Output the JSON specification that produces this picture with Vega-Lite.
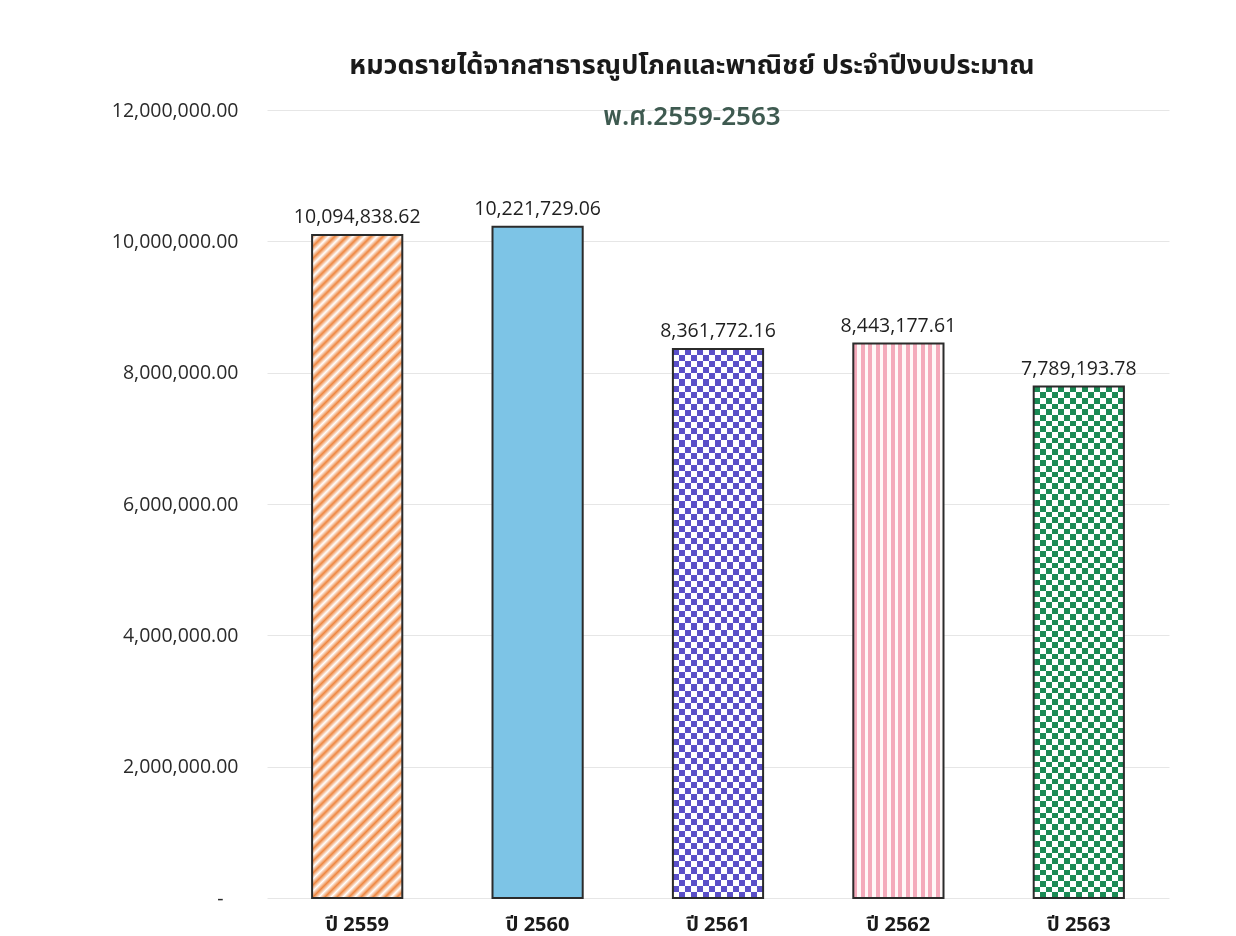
{
  "$schema": "https://vega.github.io/schema/vega-lite/v6.json",
  "width": 902,
  "height": 788,
  "autosize": {"type": "none"},
  "padding": {"left": 267, "top": 110, "right": 67, "bottom": 38},
  "background": "#ffffff",
  "config": {"view": {"stroke": null}},
  "title": {
    "text": "หมวดรายได้จากสาธารณูปโภคและพาณิชย์ ประจำปีงบประมาณ",
    "subtitle": "พ.ศ.2559-2563",
    "anchor": "middle",
    "dx": -26,
    "offset": -31,
    "subtitlePadding": 24,
    "font": "Noto Sans Thai, Tahoma, Noto Sans, DejaVu Sans, sans-serif",
    "fontSize": 27,
    "fontWeight": "bold",
    "color": "#1a1a1a",
    "subtitleFont": "Noto Sans Thai, Tahoma, Noto Sans, DejaVu Sans, sans-serif",
    "subtitleFontSize": 26,
    "subtitleFontWeight": 600,
    "subtitleColor": "#3e5a50"
  },
  "data": {
    "values": [
      {"year": "ปี 2559", "value": 10094838.62},
      {"year": "ปี 2560", "value": 10221729.06},
      {"year": "ปี 2561", "value": 8361772.16},
      {"year": "ปี 2562", "value": 8443177.61},
      {"year": "ปี 2563", "value": 7789193.78}
    ]
  },
  "encoding": {
    "x": {
      "field": "year", "type": "nominal", "title": null,
      "scale": {"domain": ["ปี 2559", "ปี 2560", "ปี 2561", "ปี 2562", "ปี 2563"], "paddingInner": 0.5, "paddingOuter": 0.25},
      "axis": {
        "labelAngle": 0, "domain": false, "ticks": false, "grid": false,
        "labelPadding": 16, "labelFontSize": 20, "labelFontWeight": "bold",
        "labelColor": "#1a1a1a",
        "labelFont": "Open Sans, Noto Sans Thai, Tahoma, sans-serif"
      }
    },
    "y": {
      "field": "value", "type": "quantitative", "title": null,
      "scale": {"domain": [0, 12000000], "nice": false},
      "axis": {
        "values": [0, 2000000, 4000000, 6000000, 8000000, 10000000, 12000000],
        "labelExpr": "datum.value == 0 ? '-\u2800' : format(datum.value, ',.2f')",
        "domain": false, "ticks": false, "grid": true,
        "gridColor": "#e6e6e6", "gridWidth": 1,
        "labelPadding": 29, "labelFontSize": 19.5,
        "labelColor": "#2a2a2a", "labelFont": "Open Sans"
      }
    }
  },
  "layer": [
    {
      "transform": [{"filter": "datum.year == 'ปี 2559'"}],
      "mark": {
        "type": "bar",
        "fill": {
          "gradient": "linear", "x1": 0, "y1": 0, "x2": 0.1518, "y2": 1.1155,
          "stops": [
            {"offset": 0, "color": "#ee8640"}, {"offset": 0.008, "color": "#ffffff"}, {"offset": 0.016, "color": "#ee8640"}, {"offset": 0.024, "color": "#ffffff"}, {"offset": 0.032, "color": "#ee8640"}, {"offset": 0.04, "color": "#ffffff"}, {"offset": 0.048, "color": "#ee8640"}, {"offset": 0.056, "color": "#ffffff"}, {"offset": 0.064, "color": "#ee8640"}, {"offset": 0.072, "color": "#ffffff"},
            {"offset": 0.08, "color": "#ee8640"}, {"offset": 0.088, "color": "#ffffff"}, {"offset": 0.096, "color": "#ee8640"}, {"offset": 0.104, "color": "#ffffff"}, {"offset": 0.112, "color": "#ee8640"}, {"offset": 0.12, "color": "#ffffff"}, {"offset": 0.128, "color": "#ee8640"}, {"offset": 0.136, "color": "#ffffff"}, {"offset": 0.144, "color": "#ee8640"}, {"offset": 0.152, "color": "#ffffff"},
            {"offset": 0.16, "color": "#ee8640"}, {"offset": 0.168, "color": "#ffffff"}, {"offset": 0.176, "color": "#ee8640"}, {"offset": 0.184, "color": "#ffffff"}, {"offset": 0.192, "color": "#ee8640"}, {"offset": 0.2, "color": "#ffffff"}, {"offset": 0.208, "color": "#ee8640"}, {"offset": 0.216, "color": "#ffffff"}, {"offset": 0.224, "color": "#ee8640"}, {"offset": 0.232, "color": "#ffffff"},
            {"offset": 0.24, "color": "#ee8640"}, {"offset": 0.248, "color": "#ffffff"}, {"offset": 0.256, "color": "#ee8640"}, {"offset": 0.264, "color": "#ffffff"}, {"offset": 0.272, "color": "#ee8640"}, {"offset": 0.28, "color": "#ffffff"}, {"offset": 0.288, "color": "#ee8640"}, {"offset": 0.296, "color": "#ffffff"}, {"offset": 0.304, "color": "#ee8640"}, {"offset": 0.312, "color": "#ffffff"},
            {"offset": 0.32, "color": "#ee8640"}, {"offset": 0.328, "color": "#ffffff"}, {"offset": 0.336, "color": "#ee8640"}, {"offset": 0.344, "color": "#ffffff"}, {"offset": 0.352, "color": "#ee8640"}, {"offset": 0.36, "color": "#ffffff"}, {"offset": 0.368, "color": "#ee8640"}, {"offset": 0.376, "color": "#ffffff"}, {"offset": 0.384, "color": "#ee8640"}, {"offset": 0.392, "color": "#ffffff"},
            {"offset": 0.4, "color": "#ee8640"}, {"offset": 0.408, "color": "#ffffff"}, {"offset": 0.416, "color": "#ee8640"}, {"offset": 0.424, "color": "#ffffff"}, {"offset": 0.432, "color": "#ee8640"}, {"offset": 0.44, "color": "#ffffff"}, {"offset": 0.448, "color": "#ee8640"}, {"offset": 0.456, "color": "#ffffff"}, {"offset": 0.464, "color": "#ee8640"}, {"offset": 0.472, "color": "#ffffff"},
            {"offset": 0.48, "color": "#ee8640"}, {"offset": 0.488, "color": "#ffffff"}, {"offset": 0.496, "color": "#ee8640"}, {"offset": 0.504, "color": "#ffffff"}, {"offset": 0.512, "color": "#ee8640"}, {"offset": 0.52, "color": "#ffffff"}, {"offset": 0.528, "color": "#ee8640"}, {"offset": 0.536, "color": "#ffffff"}, {"offset": 0.544, "color": "#ee8640"}, {"offset": 0.552, "color": "#ffffff"},
            {"offset": 0.56, "color": "#ee8640"}, {"offset": 0.568, "color": "#ffffff"}, {"offset": 0.576, "color": "#ee8640"}, {"offset": 0.584, "color": "#ffffff"}, {"offset": 0.592, "color": "#ee8640"}, {"offset": 0.6, "color": "#ffffff"}, {"offset": 0.608, "color": "#ee8640"}, {"offset": 0.616, "color": "#ffffff"}, {"offset": 0.624, "color": "#ee8640"}, {"offset": 0.632, "color": "#ffffff"},
            {"offset": 0.64, "color": "#ee8640"}, {"offset": 0.648, "color": "#ffffff"}, {"offset": 0.656, "color": "#ee8640"}, {"offset": 0.664, "color": "#ffffff"}, {"offset": 0.672, "color": "#ee8640"}, {"offset": 0.68, "color": "#ffffff"}, {"offset": 0.688, "color": "#ee8640"}, {"offset": 0.696, "color": "#ffffff"}, {"offset": 0.704, "color": "#ee8640"}, {"offset": 0.712, "color": "#ffffff"},
            {"offset": 0.72, "color": "#ee8640"}, {"offset": 0.728, "color": "#ffffff"}, {"offset": 0.736, "color": "#ee8640"}, {"offset": 0.744, "color": "#ffffff"}, {"offset": 0.752, "color": "#ee8640"}, {"offset": 0.76, "color": "#ffffff"}, {"offset": 0.768, "color": "#ee8640"}, {"offset": 0.776, "color": "#ffffff"}, {"offset": 0.784, "color": "#ee8640"}, {"offset": 0.792, "color": "#ffffff"},
            {"offset": 0.8, "color": "#ee8640"}, {"offset": 0.808, "color": "#ffffff"}, {"offset": 0.816, "color": "#ee8640"}, {"offset": 0.824, "color": "#ffffff"}, {"offset": 0.832, "color": "#ee8640"}, {"offset": 0.84, "color": "#ffffff"}, {"offset": 0.848, "color": "#ee8640"}, {"offset": 0.856, "color": "#ffffff"}, {"offset": 0.864, "color": "#ee8640"}, {"offset": 0.872, "color": "#ffffff"},
            {"offset": 0.88, "color": "#ee8640"}, {"offset": 0.888, "color": "#ffffff"}, {"offset": 0.896, "color": "#ee8640"}, {"offset": 0.904, "color": "#ffffff"}, {"offset": 0.912, "color": "#ee8640"}, {"offset": 0.92, "color": "#ffffff"}, {"offset": 0.928, "color": "#ee8640"}, {"offset": 0.936, "color": "#ffffff"}, {"offset": 0.944, "color": "#ee8640"}, {"offset": 0.952, "color": "#ffffff"},
            {"offset": 0.96, "color": "#ee8640"}, {"offset": 0.968, "color": "#ffffff"}, {"offset": 0.976, "color": "#ee8640"}, {"offset": 0.984, "color": "#ffffff"}, {"offset": 0.992, "color": "#ee8640"}, {"offset": 1, "color": "#ffffff"}
          ]
        }
      }
    },
    {
      "transform": [{"filter": "datum.year == 'ปี 2560'"}],
      "mark": {"type": "bar", "fill": "#7dc4e6"}
    },
    {
      "transform": [{"filter": "datum.year == 'ปี 2562'"}],
      "mark": {
        "type": "bar",
        "fill": {
          "gradient": "linear", "x1": 0, "y1": 0, "x2": 1, "y2": 0,
          "stops": [
            {"offset": 0, "color": "#f4aabb"}, {"offset": 0.0417, "color": "#f4aabb"}, {"offset": 0.0417, "color": "#fff8f8"}, {"offset": 0.0833, "color": "#fff8f8"},
            {"offset": 0.0833, "color": "#f4aabb"}, {"offset": 0.125, "color": "#f4aabb"}, {"offset": 0.125, "color": "#fff8f8"}, {"offset": 0.1667, "color": "#fff8f8"},
            {"offset": 0.1667, "color": "#f4aabb"}, {"offset": 0.2083, "color": "#f4aabb"}, {"offset": 0.2083, "color": "#fff8f8"}, {"offset": 0.25, "color": "#fff8f8"},
            {"offset": 0.25, "color": "#f4aabb"}, {"offset": 0.2917, "color": "#f4aabb"}, {"offset": 0.2917, "color": "#fff8f8"}, {"offset": 0.3333, "color": "#fff8f8"},
            {"offset": 0.3333, "color": "#f4aabb"}, {"offset": 0.375, "color": "#f4aabb"}, {"offset": 0.375, "color": "#fff8f8"}, {"offset": 0.4167, "color": "#fff8f8"},
            {"offset": 0.4167, "color": "#f4aabb"}, {"offset": 0.4583, "color": "#f4aabb"}, {"offset": 0.4583, "color": "#fff8f8"}, {"offset": 0.5, "color": "#fff8f8"},
            {"offset": 0.5, "color": "#f4aabb"}, {"offset": 0.5417, "color": "#f4aabb"}, {"offset": 0.5417, "color": "#fff8f8"}, {"offset": 0.5833, "color": "#fff8f8"},
            {"offset": 0.5833, "color": "#f4aabb"}, {"offset": 0.625, "color": "#f4aabb"}, {"offset": 0.625, "color": "#fff8f8"}, {"offset": 0.6667, "color": "#fff8f8"},
            {"offset": 0.6667, "color": "#f4aabb"}, {"offset": 0.7083, "color": "#f4aabb"}, {"offset": 0.7083, "color": "#fff8f8"}, {"offset": 0.75, "color": "#fff8f8"},
            {"offset": 0.75, "color": "#f4aabb"}, {"offset": 0.7917, "color": "#f4aabb"}, {"offset": 0.7917, "color": "#fff8f8"}, {"offset": 0.8333, "color": "#fff8f8"},
            {"offset": 0.8333, "color": "#f4aabb"}, {"offset": 0.875, "color": "#f4aabb"}, {"offset": 0.875, "color": "#fff8f8"}, {"offset": 0.9167, "color": "#fff8f8"},
            {"offset": 0.9167, "color": "#f4aabb"}, {"offset": 0.9583, "color": "#f4aabb"}, {"offset": 0.9583, "color": "#fff8f8"}, {"offset": 1, "color": "#fff8f8"}
          ]
        }
      }
    },
    {
      "transform": [{"filter": "datum.year == 'ปี 2561' || datum.year == 'ปี 2563'"}],
      "mark": {
        "type": "bar",
        "fill": {
          "gradient": "linear", "x1": 0, "y1": 0, "x2": 0, "y2": 1,
          "stops": [
            {"offset": 0, "color": "#000"},
            {"offset": 0.0111, "color": "#000"}, {"offset": 0.0111, "color": "#fff"}, {"offset": 0.0222, "color": "#fff"}, {"offset": 0.0222, "color": "#000"},
            {"offset": 0.0333, "color": "#000"}, {"offset": 0.0333, "color": "#fff"}, {"offset": 0.0444, "color": "#fff"}, {"offset": 0.0444, "color": "#000"},
            {"offset": 0.0556, "color": "#000"}, {"offset": 0.0556, "color": "#fff"}, {"offset": 0.0667, "color": "#fff"}, {"offset": 0.0667, "color": "#000"},
            {"offset": 0.0778, "color": "#000"}, {"offset": 0.0778, "color": "#fff"}, {"offset": 0.0889, "color": "#fff"}, {"offset": 0.0889, "color": "#000"},
            {"offset": 0.1, "color": "#000"}, {"offset": 0.1, "color": "#fff"}, {"offset": 0.1111, "color": "#fff"}, {"offset": 0.1111, "color": "#000"},
            {"offset": 0.1222, "color": "#000"}, {"offset": 0.1222, "color": "#fff"}, {"offset": 0.1333, "color": "#fff"}, {"offset": 0.1333, "color": "#000"},
            {"offset": 0.1444, "color": "#000"}, {"offset": 0.1444, "color": "#fff"}, {"offset": 0.1556, "color": "#fff"}, {"offset": 0.1556, "color": "#000"},
            {"offset": 0.1667, "color": "#000"}, {"offset": 0.1667, "color": "#fff"}, {"offset": 0.1778, "color": "#fff"}, {"offset": 0.1778, "color": "#000"},
            {"offset": 0.1889, "color": "#000"}, {"offset": 0.1889, "color": "#fff"}, {"offset": 0.2, "color": "#fff"}, {"offset": 0.2, "color": "#000"},
            {"offset": 0.2111, "color": "#000"}, {"offset": 0.2111, "color": "#fff"}, {"offset": 0.2222, "color": "#fff"}, {"offset": 0.2222, "color": "#000"},
            {"offset": 0.2333, "color": "#000"}, {"offset": 0.2333, "color": "#fff"}, {"offset": 0.2444, "color": "#fff"}, {"offset": 0.2444, "color": "#000"},
            {"offset": 0.2556, "color": "#000"}, {"offset": 0.2556, "color": "#fff"}, {"offset": 0.2667, "color": "#fff"}, {"offset": 0.2667, "color": "#000"},
            {"offset": 0.2778, "color": "#000"}, {"offset": 0.2778, "color": "#fff"}, {"offset": 0.2889, "color": "#fff"}, {"offset": 0.2889, "color": "#000"},
            {"offset": 0.3, "color": "#000"}, {"offset": 0.3, "color": "#fff"}, {"offset": 0.3111, "color": "#fff"}, {"offset": 0.3111, "color": "#000"},
            {"offset": 0.3222, "color": "#000"}, {"offset": 0.3222, "color": "#fff"}, {"offset": 0.3333, "color": "#fff"}, {"offset": 0.3333, "color": "#000"},
            {"offset": 0.3444, "color": "#000"}, {"offset": 0.3444, "color": "#fff"}, {"offset": 0.3556, "color": "#fff"}, {"offset": 0.3556, "color": "#000"},
            {"offset": 0.3667, "color": "#000"}, {"offset": 0.3667, "color": "#fff"}, {"offset": 0.3778, "color": "#fff"}, {"offset": 0.3778, "color": "#000"},
            {"offset": 0.3889, "color": "#000"}, {"offset": 0.3889, "color": "#fff"}, {"offset": 0.4, "color": "#fff"}, {"offset": 0.4, "color": "#000"},
            {"offset": 0.4111, "color": "#000"}, {"offset": 0.4111, "color": "#fff"}, {"offset": 0.4222, "color": "#fff"}, {"offset": 0.4222, "color": "#000"},
            {"offset": 0.4333, "color": "#000"}, {"offset": 0.4333, "color": "#fff"}, {"offset": 0.4444, "color": "#fff"}, {"offset": 0.4444, "color": "#000"},
            {"offset": 0.4556, "color": "#000"}, {"offset": 0.4556, "color": "#fff"}, {"offset": 0.4667, "color": "#fff"}, {"offset": 0.4667, "color": "#000"},
            {"offset": 0.4778, "color": "#000"}, {"offset": 0.4778, "color": "#fff"}, {"offset": 0.4889, "color": "#fff"}, {"offset": 0.4889, "color": "#000"},
            {"offset": 0.5, "color": "#000"}, {"offset": 0.5, "color": "#fff"}, {"offset": 0.5111, "color": "#fff"}, {"offset": 0.5111, "color": "#000"},
            {"offset": 0.5222, "color": "#000"}, {"offset": 0.5222, "color": "#fff"}, {"offset": 0.5333, "color": "#fff"}, {"offset": 0.5333, "color": "#000"},
            {"offset": 0.5444, "color": "#000"}, {"offset": 0.5444, "color": "#fff"}, {"offset": 0.5556, "color": "#fff"}, {"offset": 0.5556, "color": "#000"},
            {"offset": 0.5667, "color": "#000"}, {"offset": 0.5667, "color": "#fff"}, {"offset": 0.5778, "color": "#fff"}, {"offset": 0.5778, "color": "#000"},
            {"offset": 0.5889, "color": "#000"}, {"offset": 0.5889, "color": "#fff"}, {"offset": 0.6, "color": "#fff"}, {"offset": 0.6, "color": "#000"},
            {"offset": 0.6111, "color": "#000"}, {"offset": 0.6111, "color": "#fff"}, {"offset": 0.6222, "color": "#fff"}, {"offset": 0.6222, "color": "#000"},
            {"offset": 0.6333, "color": "#000"}, {"offset": 0.6333, "color": "#fff"}, {"offset": 0.6444, "color": "#fff"}, {"offset": 0.6444, "color": "#000"},
            {"offset": 0.6556, "color": "#000"}, {"offset": 0.6556, "color": "#fff"}, {"offset": 0.6667, "color": "#fff"}, {"offset": 0.6667, "color": "#000"},
            {"offset": 0.6778, "color": "#000"}, {"offset": 0.6778, "color": "#fff"}, {"offset": 0.6889, "color": "#fff"}, {"offset": 0.6889, "color": "#000"},
            {"offset": 0.7, "color": "#000"}, {"offset": 0.7, "color": "#fff"}, {"offset": 0.7111, "color": "#fff"}, {"offset": 0.7111, "color": "#000"},
            {"offset": 0.7222, "color": "#000"}, {"offset": 0.7222, "color": "#fff"}, {"offset": 0.7333, "color": "#fff"}, {"offset": 0.7333, "color": "#000"},
            {"offset": 0.7444, "color": "#000"}, {"offset": 0.7444, "color": "#fff"}, {"offset": 0.7556, "color": "#fff"}, {"offset": 0.7556, "color": "#000"},
            {"offset": 0.7667, "color": "#000"}, {"offset": 0.7667, "color": "#fff"}, {"offset": 0.7778, "color": "#fff"}, {"offset": 0.7778, "color": "#000"},
            {"offset": 0.7889, "color": "#000"}, {"offset": 0.7889, "color": "#fff"}, {"offset": 0.8, "color": "#fff"}, {"offset": 0.8, "color": "#000"},
            {"offset": 0.8111, "color": "#000"}, {"offset": 0.8111, "color": "#fff"}, {"offset": 0.8222, "color": "#fff"}, {"offset": 0.8222, "color": "#000"},
            {"offset": 0.8333, "color": "#000"}, {"offset": 0.8333, "color": "#fff"}, {"offset": 0.8444, "color": "#fff"}, {"offset": 0.8444, "color": "#000"},
            {"offset": 0.8556, "color": "#000"}, {"offset": 0.8556, "color": "#fff"}, {"offset": 0.8667, "color": "#fff"}, {"offset": 0.8667, "color": "#000"},
            {"offset": 0.8778, "color": "#000"}, {"offset": 0.8778, "color": "#fff"}, {"offset": 0.8889, "color": "#fff"}, {"offset": 0.8889, "color": "#000"},
            {"offset": 0.9, "color": "#000"}, {"offset": 0.9, "color": "#fff"}, {"offset": 0.9111, "color": "#fff"}, {"offset": 0.9111, "color": "#000"},
            {"offset": 0.9222, "color": "#000"}, {"offset": 0.9222, "color": "#fff"}, {"offset": 0.9333, "color": "#fff"}, {"offset": 0.9333, "color": "#000"},
            {"offset": 0.9444, "color": "#000"}, {"offset": 0.9444, "color": "#fff"}, {"offset": 0.9556, "color": "#fff"}, {"offset": 0.9556, "color": "#000"},
            {"offset": 0.9667, "color": "#000"}, {"offset": 0.9667, "color": "#fff"}, {"offset": 0.9778, "color": "#fff"}, {"offset": 0.9778, "color": "#000"},
            {"offset": 0.9889, "color": "#000"}, {"offset": 0.9889, "color": "#fff"}, {"offset": 1, "color": "#fff"}
          ]
        }
      }
    },
    {
      "transform": [{"filter": "datum.year == 'ปี 2561' || datum.year == 'ปี 2563'"}],
      "mark": {
        "type": "bar",
        "blend": "difference",
        "fill": {
          "gradient": "linear", "x1": 0, "y1": 0, "x2": 1, "y2": 0,
          "stops": [
            {"offset": 0, "color": "#000"},
            {"offset": 0.0667, "color": "#000"}, {"offset": 0.0667, "color": "#fff"}, {"offset": 0.1333, "color": "#fff"}, {"offset": 0.1333, "color": "#000"},
            {"offset": 0.2, "color": "#000"}, {"offset": 0.2, "color": "#fff"}, {"offset": 0.2667, "color": "#fff"}, {"offset": 0.2667, "color": "#000"},
            {"offset": 0.3333, "color": "#000"}, {"offset": 0.3333, "color": "#fff"}, {"offset": 0.4, "color": "#fff"}, {"offset": 0.4, "color": "#000"},
            {"offset": 0.4667, "color": "#000"}, {"offset": 0.4667, "color": "#fff"}, {"offset": 0.5333, "color": "#fff"}, {"offset": 0.5333, "color": "#000"},
            {"offset": 0.6, "color": "#000"}, {"offset": 0.6, "color": "#fff"}, {"offset": 0.6667, "color": "#fff"}, {"offset": 0.6667, "color": "#000"},
            {"offset": 0.7333, "color": "#000"}, {"offset": 0.7333, "color": "#fff"}, {"offset": 0.8, "color": "#fff"}, {"offset": 0.8, "color": "#000"},
            {"offset": 0.8667, "color": "#000"}, {"offset": 0.8667, "color": "#fff"}, {"offset": 0.9333, "color": "#fff"}, {"offset": 0.9333, "color": "#000"},
            {"offset": 1, "color": "#000"}
          ]
        }
      }
    },
    {
      "transform": [{"filter": "datum.year == 'ปี 2561' || datum.year == 'ปี 2563'"}],
      "mark": {"type": "bar", "blend": "lighten"},
      "encoding": {
        "color": {
          "field": "year", "type": "nominal", "legend": null,
          "scale": {"domain": ["ปี 2561", "ปี 2563"], "range": ["#5a4fc8", "#1b8a55"]}
        }
      }
    },
    {
      "mark": {"type": "bar", "fillOpacity": 0, "stroke": "#2b2b2b", "strokeWidth": 2}
    },
    {
      "mark": {
        "type": "text", "baseline": "bottom", "dy": -8,
        "font": "Open Sans", "fontSize": 19.5, "color": "#1f1f1f"
      },
      "encoding": {
        "text": {"field": "value", "type": "quantitative", "format": ",.2f"}
      }
    }
  ]
}
